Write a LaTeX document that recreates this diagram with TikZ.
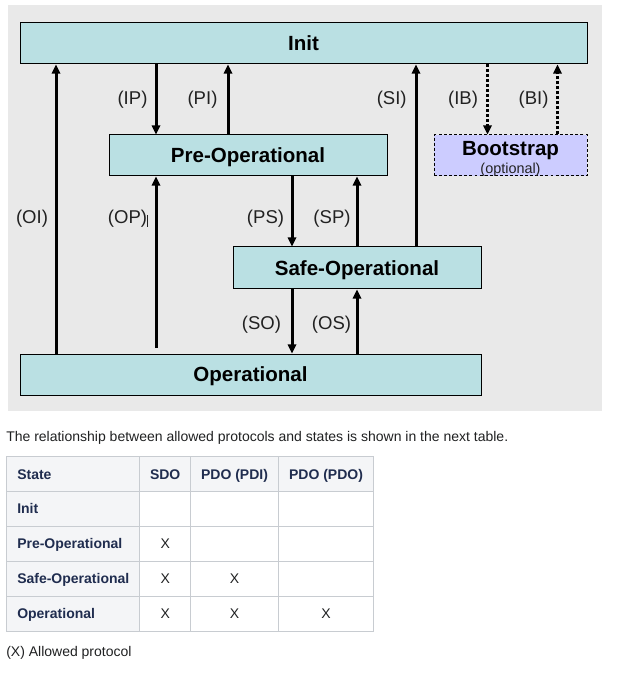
\documentclass[tikz,border=0pt]{standalone}
\usepackage{fontspec}
\setmainfont{Liberation Sans}
\usetikzlibrary{arrows.meta}
\definecolor{bggray}{HTML}{E9E9E9}
\definecolor{stbox}{HTML}{BAE0E3}
\definecolor{bsbox}{HTML}{CCCCFF}
\definecolor{lbl}{HTML}{222222}
\definecolor{thbg}{HTML}{F4F5F7}
\definecolor{tbord}{HTML}{C8CCD1}
\definecolor{thtxt}{HTML}{202D4F}
\definecolor{bodytxt}{HTML}{202122}
\begin{document}
\begin{tikzpicture}[x=0.75pt,y=-0.75pt,
  capc/.style={text height=#1,text depth=0pt},
  statebox/.style={draw=black,line width=0.75pt,fill=stbox,inner sep=0pt,capc=11.1pt,
    font=\fontsize{15.4}{18}\selectfont\bfseries},
  bootbox/.style={draw=black,line width=0.75pt,fill=bsbox,inner sep=0pt,
    dash pattern=on 2.2pt off 1.6pt},
  arr/.style={line width=2.25pt,-{Triangle[width=6.2pt,length=6.8pt]}},
  dotarr/.style={arr,dash pattern=on 2.25pt off 1.5pt},
  lab/.style={text=lbl,inner sep=0pt,capc=10pt,font=\fontsize{13.9}{16}\selectfont},
  thcell/.style={draw=tbord,line width=0.75pt,fill=thbg},
  tdcell/.style={draw=tbord,line width=0.75pt,fill=white},
  thtext/.style={text=thtxt,inner sep=0pt,capc=7.56pt,font=\fontsize{10.5}{12}\selectfont\bfseries},
  tdtext/.style={text=bodytxt,inner sep=0pt,capc=7.56pt,font=\fontsize{10.5}{12}\selectfont},
  para/.style={text=bodytxt,inner sep=0pt,capc=7.56pt,anchor=west,font=\fontsize{10.5}{12}\selectfont}
]
\useasboundingbox (0,0) rectangle (627,680);
\fill[white] (0,0) rectangle (627,680);
% background panel
\fill[bggray] (8,5) rectangle (602,411);

% states
\node[statebox,minimum width=567*0.75pt,minimum height=41*0.75pt] (init) at (303.5,43.5) {Init};
\node[statebox,minimum width=278*0.75pt,minimum height=41*0.75pt] (pre) at (248,155.5) {Pre-Operational};
\node[bootbox,minimum width=153*0.75pt,minimum height=41*0.75pt] (boot) at (510.5,155.5) {};
\node[inner sep=0pt,capc=11.1pt,font=\fontsize{15.4}{18}\selectfont\bfseries] (bootT) at (510.5,147.8) {Bootstrap};
\node[inner sep=0pt,capc=7.8pt,text=lbl,font=\fontsize{10.8}{12}\selectfont] (bootO) at (510.5,168.3) {(optional)};
\node[statebox,minimum width=248*0.75pt,minimum height=42*0.75pt] (safe) at (357,268) {Safe-Operational};
\node[statebox,minimum width=461*0.75pt,minimum height=41*0.75pt] (oper) at (250.5,374.5) {Operational};

% columns of connectors
\coordinate (xOI) at (56,0);
\coordinate (xIP) at (156,0);
\coordinate (xPI) at (228,0);
\coordinate (xPS) at (292,0);
\coordinate (xSP) at (357,0);
\coordinate (xSI) at (416,0);
\coordinate (xIB) at (487.5,0);
\coordinate (xBI) at (557.5,0);
\coordinate (opEnd) at (156,348);

\draw[arr] (oper.north -| xOI) -- (init.south -| xOI);
\draw[arr] (init.south -| xIP) -- (pre.north -| xIP);
\draw[arr] (pre.north -| xPI) -- (init.south -| xPI);
\draw[arr] (opEnd) -- (pre.south -| opEnd);
\draw[arr] (pre.south -| xPS) -- (safe.north -| xPS);
\draw[arr] (safe.north -| xSP) -- (pre.south -| xSP);
\draw[arr] (safe.north -| xSI) -- (init.south -| xSI);
\draw[arr] (safe.south -| xPS) -- (oper.north -| xPS);
\draw[arr] (oper.north -| xSP) -- (safe.south -| xSP);
\draw[dotarr] (init.south -| xIB) -- (boot.north -| xIB);
\draw[dotarr] (boot.north -| xBI) -- (init.south -| xBI);

% transition labels
\node[lab] (lIP) at (132.5,97.5) {(IP)};
\node[lab] (lPI) at (202.5,97.5) {(PI)};
\node[lab] (lSI) at (391.7,97.5) {(SI)};
\node[lab] (lIB) at (463,97.5) {(IB)};
\node[lab] (lBI) at (533.5,97.5) {(BI)};
\node[lab] (lOI) at (32,217) {(OI)};
\node[lab] (lOP) at (127.5,217) {(OP)};
\draw[line width=0.75pt,lbl] (147.8,215) -- (147.8,227);
\node[lab] (lPS) at (265.5,217) {(PS)};
\node[lab] (lSP) at (332,217) {(SP)};
\node[lab] (lSO) at (261.5,323) {(SO)};
\node[lab] (lOS) at (331.5,323) {(OS)};

% text
\node[para] (intro) at (6,436) {The relationship between allowed protocols and states is shown in the next table.};

% table
\foreach \ya/\yb [count=\r] in {456/491,491/526,526/561,561/596,596/631}{
  \draw[thcell] (6.3,\ya) rectangle (139.7,\yb);
  \ifnum\r=1
    \draw[thcell] (139.7,\ya) rectangle (190.7,\yb);
    \draw[thcell] (190.7,\ya) rectangle (278.3,\yb);
    \draw[thcell] (278.3,\ya) rectangle (373.7,\yb);
  \else
    \draw[tdcell] (139.7,\ya) rectangle (190.7,\yb);
    \draw[tdcell] (190.7,\ya) rectangle (278.3,\yb);
    \draw[tdcell] (278.3,\ya) rectangle (373.7,\yb);
  \fi
}
\node[thtext,anchor=west] (hState) at (17,474.5) {State};
\node[thtext] (hSDO) at (165.2,474.5) {SDO};
\node[thtext] (hPDI) at (234.5,474.5) {PDO (PDI)};
\node[thtext] (hPDO) at (326,474.5) {PDO (PDO)};
\node[thtext,anchor=west] (rInit) at (17,508.5) {Init};
\node[thtext,anchor=west] (rPre) at (17,543.5) {Pre-Operational};
\node[thtext,anchor=west] (rSafe) at (17,578.5) {Safe-Operational};
\node[thtext,anchor=west] (rOp) at (17,613.5) {Operational};
\node[tdtext] (c21) at (165.2,543.5) {X};
\node[tdtext] (c31) at (165.2,578.5) {X};
\node[tdtext] (c32) at (234.5,578.5) {X};
\node[tdtext] (c41) at (165.2,613.5) {X};
\node[tdtext] (c42) at (234.5,613.5) {X};
\node[tdtext] (c43) at (326,613.5) {X};

\node[para] (note) at (6,651.7) {(X) Allowed protocol};
\end{tikzpicture}
\end{document}
